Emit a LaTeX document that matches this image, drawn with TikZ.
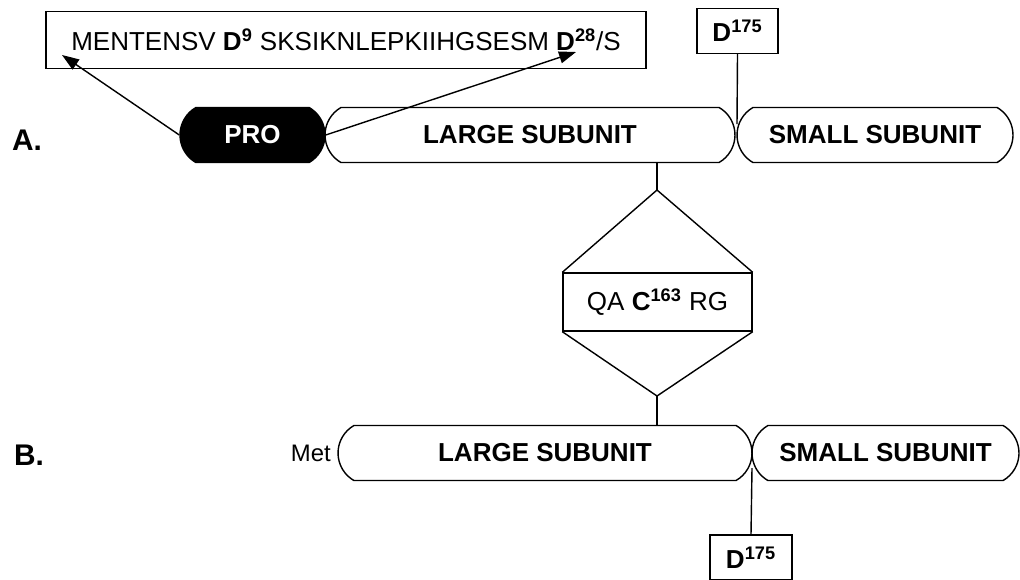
\documentclass[tikz,border=0pt]{standalone}
\usepackage{fontspec}
\setmainfont{Liberation Sans}
\usetikzlibrary{shapes.misc,arrows.meta,positioning}

\tikzset{
  pill/.style={draw, rounded rectangle, rounded rectangle arc length=120, minimum height=1.1cm, inner sep=0pt, font=\bfseries\fontsize{14.8}{17}\selectfont},
  tag/.style={draw, minimum height=0.9cm, inner sep=0pt, font=\fontsize{14.8}{17}\selectfont},
  row/.style={font=\bfseries\fontsize{17}{20}\selectfont},
  pointer/.style={-{Triangle[length=3.4mm,width=2.4mm]}}
}
\newcommand{\resid}[2]{\textbf{#1}\textsuperscript{\textbf{#2}}}

\begin{document}
\begin{tikzpicture}[x=0.02cm, y=-0.02cm, line width=0.8pt]
  \useasboundingbox (0,0) rectangle (1020,579);
  \node[tag, minimum width=12cm, minimum height=1.14cm] (seq) at (346,40) {MENTENSV \resid{D}{9} SKSIKNLEPKIIHGSESM \resid{D}{28}/S};
  \node[tag, minimum width=1.62cm] (dA) at (737.5,31) {\resid{D}{175}};
  \node[row] (rowA) at (27,140) {A.};
  \node[pill, fill=black, text=white, minimum width=2.9cm] (pro) at (252.5,135) {PRO};
  \node[pill, minimum width=8.2cm] (largeA) at (530,135) {LARGE SUBUNIT};
  \node[pill, minimum width=5.52cm] (smallA) at (875,135) {SMALL SUBUNIT};
  \coordinate (tip9) at (62,55); \coordinate (tip28) at (576,52); \coordinate (jA) at (737,124);
  \draw[pointer] (pro.west) -- (tip9);
  \draw[pointer] (pro.east) -- (tip28);
  \draw (dA.south) -- (jA);

  \node[tag, minimum width=3.78cm, minimum height=1.16cm] (cys) at (657.5,302) {QA \resid{C}{163} RG};
  \coordinate (top) at (657,190); \coordinate (bot) at (657,396);
  \draw (top |- largeA.south) -- (top);
  \draw (cys.north west) -- (top) -- (cys.north east);
  \draw (cys.south west) -- (bot) -- (cys.south east);

  \node[row] (rowB) at (29,455) {B.};
  \node[pill, minimum width=8.28cm] (largeB) at (545,453) {LARGE SUBUNIT};
  \node[pill, minimum width=5.34cm] (smallB) at (885.5,453) {SMALL SUBUNIT};
  \node[left=0pt of largeB, font=\fontsize{13.6}{16}\selectfont] (met) {Met};
  \draw (bot) -- (bot |- largeB.north);
  \node[tag, minimum width=1.64cm] (dB) at (751,557.5) {\resid{D}{175}};
  \coordinate (jB) at (752,468);
  \draw (jB) -- (dB.north);
\end{tikzpicture}
\end{document}
